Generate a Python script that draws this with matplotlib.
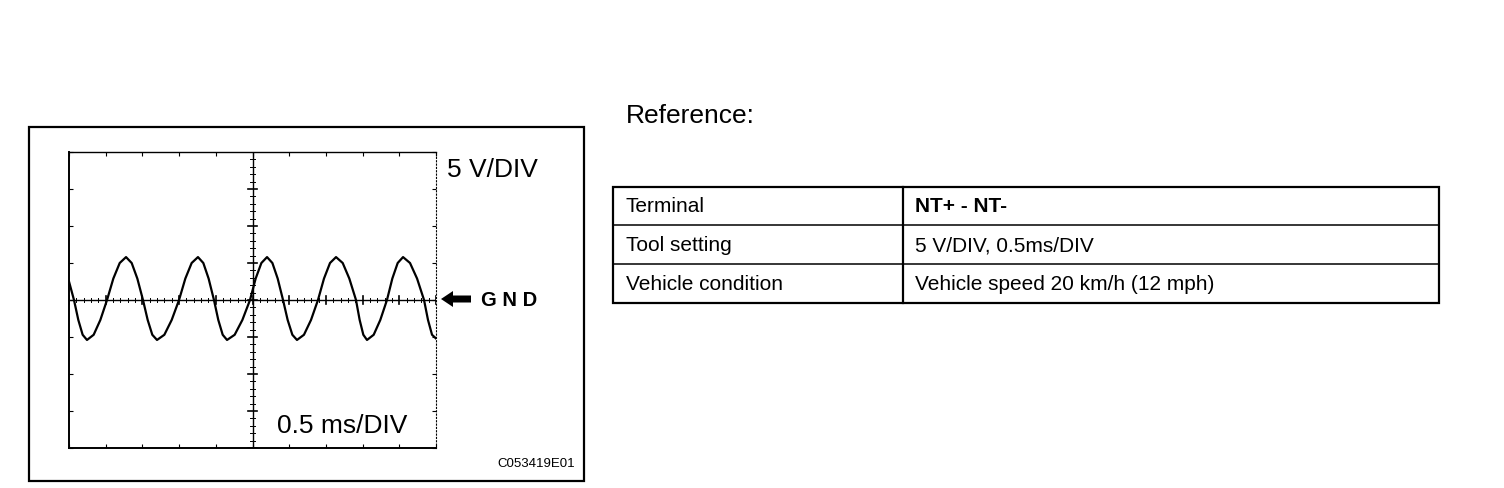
import numpy as np
import matplotlib.pyplot as plt
from matplotlib.patches import Rectangle, FancyArrow

plt.rcParams['font.family'] = ['Liberation Sans', 'DejaVu Sans']

tiempo = [0.000, 0.068, 0.127, 0.186, 0.245, 0.336, 0.427, 0.518, 0.604, 0.691,
          0.777, 0.854, 0.931, 1.008, 1.072, 1.135, 1.199, 1.299, 1.399, 1.499,
          1.585, 1.671, 1.757, 1.830, 1.902, 1.975, 2.034, 2.094, 2.153, 2.257,
          2.362, 2.466, 2.543, 2.621, 2.698, 2.771, 2.843, 2.916, 2.979, 3.043,
          3.106, 3.201, 3.297, 3.392, 3.474, 3.556, 3.638, 3.729, 3.819, 3.910,
          3.960, 4.010, 4.060, 4.151, 4.241, 4.332, 4.405, 4.478, 4.551, 4.646,
          4.742, 4.837, 4.891, 4.946, 5.000]
tension = [2.5, 0.0, -2.7, -4.7, -5.4, -4.7, -2.7, 0.0, 2.9, 5.0,
           5.8, 5.0, 2.9, 0.0, -2.7, -4.7, -5.4, -4.7, -2.7, 0.0,
           2.9, 5.0, 5.8, 5.0, 2.9, 0.0, -2.7, -4.7, -5.4, -4.7,
           -2.7, 0.0, 2.9, 5.0, 5.8, 5.0, 2.9, 0.0, -2.7, -4.7,
           -5.4, -4.7, -2.7, 0.0, 2.9, 5.0, 5.8, 5.0, 2.9, 0.0,
           -2.7, -4.7, -5.4, -4.7, -2.7, 0.0, 2.9, 5.0, 5.8, 5.0,
           2.9, 0.0, -2.7, -4.7, -5.2]

# Escalas del osciloscopio
vDiv = 5.0    # V/DIV
tDiv = 0.5    # ms/DIV
nDivX = 10
nDivY = 8

# Tabla de referencia
filas = ['Terminal', 'Tool setting', 'Vehicle condition']
valores = ['NT+ - NT-', '5 V/DIV, 0.5ms/DIV', 'Vehicle speed 20 km/h (12 mph)']

W, H = 1504, 488
fig = plt.figure(figsize=(W/100, H/100), dpi=100)

# Fondo en coordenadas de pixel
bg = fig.add_axes([0, 0, 1, 1])
bg.set_xlim(0, W)
bg.set_ylim(H, 0)
bg.axis('off')

bg.add_patch(Rectangle((29, 127), 555, 354, fill=False, lw=1.6, ec='black'))
bg.text(447, 170, '5 V/DIV', fontsize=19, va='center', ha='left')
bg.text(277, 426, '0.5 ms/DIV', fontsize=19, va='center', ha='left')
bg.text(575, 464, 'C053419E01', fontsize=9.5, va='center', ha='right')
bg.text(481, 301, 'G N D', fontsize=14.5, fontweight='bold', va='center', ha='left')
bg.add_patch(FancyArrow(471, 299, -30, 0, width=7, head_width=16, head_length=12,
                        length_includes_head=True, color='black', lw=0))

# Tabla
bg.text(626, 116, 'Reference:', fontsize=19, va='center', ha='left')
x0, x1, xc = 613, 1439, 903
yFilas = [187, 225, 264, 303]
bg.add_patch(Rectangle((x0, yFilas[0]), x1 - x0, yFilas[-1] - yFilas[0],
                       fill=False, lw=1.6, ec='black'))
for y in yFilas[1:-1]:
    bg.plot([x0, x1], [y, y], color='black', lw=1.1)
bg.plot([xc, xc], [yFilas[0], yFilas[-1]], color='black', lw=1.6)
for i in range(len(filas)):
    yc = (yFilas[i] + yFilas[i+1]) / 2 + 1
    bg.text(626, yc, filas[i], fontsize=15, va='center', ha='left')
    bg.text(915, yc, valores[i], fontsize=15, va='center', ha='left',
            fontweight='semibold' if i == 0 else 'normal')

# Pantalla del osciloscopio
ax = fig.add_axes([69/W, (H-448)/H, 367/W, 296/H])
ax.set_xlim(0, nDivX*tDiv)
ax.set_ylim(-nDivY/2*vDiv, nDivY/2*vDiv)
ax.set_xticks(np.arange(0, nDivX + 1)*tDiv)
ax.set_yticks(np.arange(-nDivY/2, nDivY/2 + 1)*vDiv)
ax.set_xticklabels([])
ax.set_yticklabels([])
ax.tick_params(direction='in', length=3, width=0.8, top=True, right=True,
               bottom=True, left=True)
ax.spines['left'].set_linewidth(1.4)
ax.spines['bottom'].set_linewidth(1.4)
ax.spines['top'].set_linewidth(1.0)
ax.spines['right'].set_linewidth(0.8)
ax.spines['right'].set_linestyle((0, (1, 2)))

# Ejes centrales con marcas
tc = nDivX/2*tDiv
ax.axvline(tc, color='black', lw=1.0)
ax.axhline(0, color='black', lw=1.0)
for v in np.arange(-nDivY/2*vDiv, nDivY/2*vDiv + 0.01, vDiv/5):
    mayor = abs(v/vDiv - round(v/vDiv)) < 1e-6
    d = 0.055 if mayor else 0.03
    ax.plot([tc - d, tc + d], [v, v], color='black', lw=1.2 if mayor else 0.7)
for t in np.arange(0, nDivX*tDiv + 0.001, tDiv/5):
    mayor = abs(t/tDiv - round(t/tDiv)) < 1e-6
    d = 0.55 if mayor else 0.3
    ax.plot([t, t], [-d, d], color='black', lw=1.2 if mayor else 0.7)

ax.plot(tiempo, tension, color='black', lw=1.6, solid_joinstyle='round')
ax.set_facecolor('none')

fig.savefig('out.png', dpi=100)
